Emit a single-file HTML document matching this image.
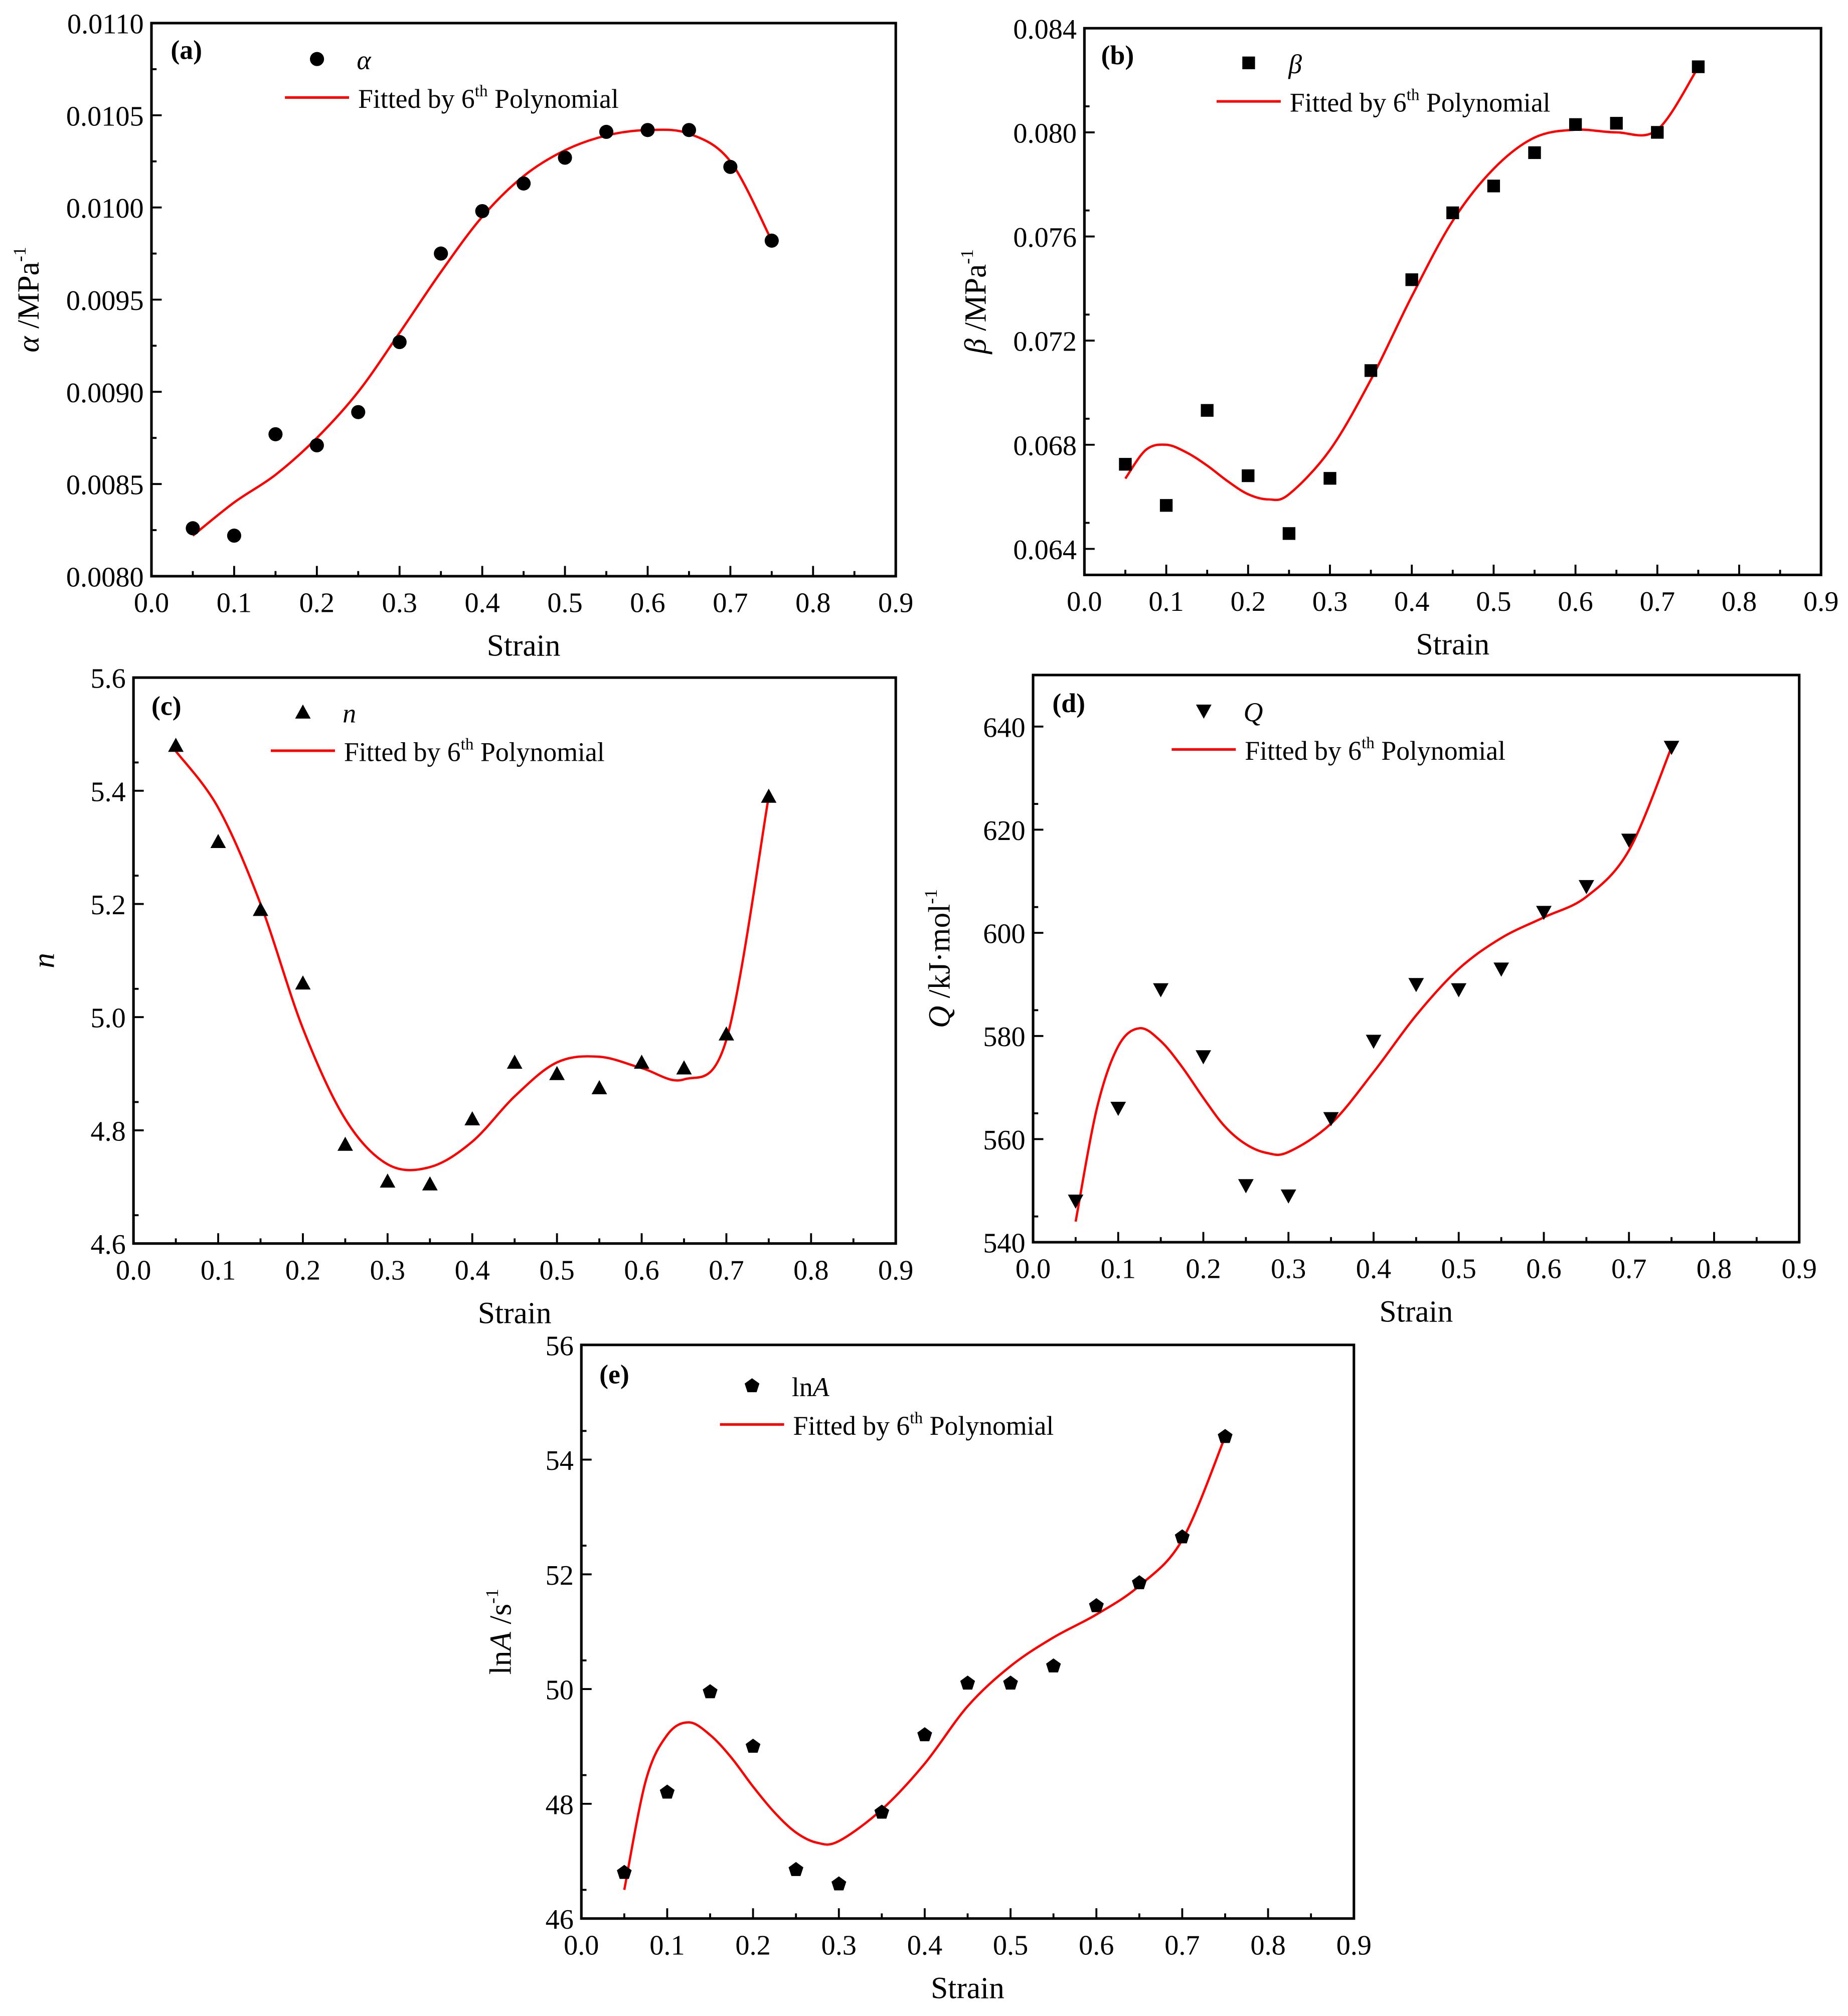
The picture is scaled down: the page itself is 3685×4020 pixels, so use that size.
<!DOCTYPE html>
<html><head><meta charset="utf-8"><style>
html,body{margin:0;padding:0;background:#fff;}
svg, svg text{font-family:"Liberation Serif","Times New Roman",serif;}
</style></head><body>
<svg id="fig" width="3685" height="4015" viewBox="0 0 1440 1569" xmlns="http://www.w3.org/2000/svg" font-family="Liberation Serif, serif">
<rect x="0" y="0" width="1440" height="1569" fill="#fff"/>
</svg>
<script>
const strainValues = [0.05,0.1,0.15,0.2,0.25,0.3,0.35,0.4,0.45,0.5,0.55,0.6,0.65,0.7,0.75];
const alphaValues = [0.00826,0.00822,0.00877,0.00871,0.00889,0.00927,0.00975,0.00998,0.01013,0.01027,0.01041,0.01042,0.01042,0.01022,0.00982];
const alphaFitX = [0.05,0.1,0.15,0.2,0.25,0.3,0.35,0.4,0.45,0.5,0.55,0.6,0.65,0.7,0.75];
const alphaFitY = [0.00822,0.0084,0.00855,0.00875,0.009,0.00932,0.00965,0.00995,0.01017,0.01031,0.01039,0.01042,0.0104,0.01025,0.00982];
const betaValues = [0.06725,0.06567,0.06932,0.06681,0.06459,0.06671,0.07085,0.07434,0.07691,0.07794,0.07922,0.0803,0.08035,0.0800,0.08252];
const betaFitX = [0.05,0.075,0.1,0.125,0.15,0.175,0.2,0.225,0.25,0.3,0.35,0.4,0.45,0.5,0.55,0.6,0.65,0.7,0.75];
const betaFitY = [0.0667,0.0678,0.0680,0.0677,0.0672,0.0666,0.0661,0.0659,0.0661,0.0678,0.0705,0.0737,0.0766,0.0786,0.0798,0.0801,0.0800,0.0801,0.0825];
const nValues = [5.48,5.31,5.19,5.06,4.775,4.71,4.705,4.82,4.92,4.90,4.875,4.92,4.91,4.97,5.39];
const nFitX = [0.05,0.1,0.15,0.2,0.25,0.3,0.35,0.4,0.45,0.5,0.55,0.6,0.65,0.7,0.75];
const nFitY = [5.47,5.37,5.2,4.98,4.82,4.74,4.735,4.78,4.86,4.92,4.93,4.91,4.89,4.96,5.39];
const qValues = [548,566,589,576,551,549,564,579,590,589,593,604,609,618,636];
const qFitX = [0.05,0.075,0.1,0.125,0.15,0.175,0.2,0.225,0.25,0.275,0.3,0.35,0.4,0.45,0.5,0.55,0.6,0.65,0.7,0.75];
const qFitY = [544,566,578,581.5,579,574,568,562.5,559,557.3,557.5,563,573,584,593,599,603,607,616,636];
const lnaValues = [46.8,48.2,49.95,49.0,46.85,46.6,47.85,49.2,50.1,50.1,50.4,51.45,51.85,52.65,54.4];
const lnaFitX = [0.05,0.075,0.1,0.125,0.15,0.175,0.2,0.225,0.25,0.275,0.3,0.35,0.4,0.45,0.5,0.55,0.6,0.65,0.7,0.75];
const lnaFitY = [46.5,48.4,49.2,49.42,49.2,48.8,48.3,47.85,47.5,47.32,47.35,47.9,48.7,49.7,50.4,50.9,51.3,51.8,52.6,54.4];
const xTickLabels = ["0.0","0.1","0.2","0.3","0.4","0.5","0.6","0.7","0.8","0.9"];
const alphaTicks = ["0.0080","0.0085","0.0090","0.0095","0.0100","0.0105","0.0110"];
const betaTicks = ["0.064","0.068","0.072","0.076","0.080","0.084"];
const nTicks = ["4.6","4.8","5.0","5.2","5.4","5.6"];
const qTicks = ["540","560","580","600","620","640"];
const lnaTicks = ["46","48","50","52","54","56"];

const NS="http://www.w3.org/2000/svg";
const FF='"Liberation Serif", serif';
const fig=document.getElementById('fig');
function mk(tag,attrs,parent){const e=document.createElementNS(NS,tag);for(const k in attrs)e.setAttribute(k,attrs[k]);if(tag==='text')e.setAttribute('font-family',FF);(parent||fig).appendChild(e);return e;}

function marker(g,shape,cx,cy,s){
  let e;
  if(shape==='circle') e=mk('circle',{cx:cx,cy:cy,r:s,fill:'#000'},g);
  else if(shape==='square') e=mk('rect',{x:cx-s*0.9,y:cy-s*0.9,width:s*1.8,height:s*1.8,fill:'#000'},g);
  else if(shape==='up') e=mk('polygon',{points:`${cx},${cy-s*1.1} ${cx-s*1.1},${cy+s*0.9} ${cx+s*1.1},${cy+s*0.9}`,fill:'#000'},g);
  else if(shape==='down') e=mk('polygon',{points:`${cx},${cy+s*1.1} ${cx-s*1.1},${cy-s*0.9} ${cx+s*1.1},${cy-s*0.9}`,fill:'#000'},g);
  else {let p=[];for(let i=0;i<5;i++){const a=-Math.PI/2+i*2*Math.PI/5;p.push((cx+s*1.1*Math.cos(a)).toFixed(2)+','+(cy+s*1.1*Math.sin(a)).toFixed(2));}
    e=mk('polygon',{points:p.join(' '),fill:'#000'},g);}
  return e;
}

function panel(P){
  const g=mk('g',{});
  
  
  const xs=v=>P.L+(v-0)/0.9*(P.R-P.L);
  const ys=v=>P.B-(v-P.y0)/(P.y1-P.y0)*(P.B-P.T);
  const fr=mk('rect',{x:P.L,y:P.T,width:P.R-P.L,height:P.B-P.T,fill:'none',stroke:'#000','stroke-width':2},g);
  
  
  xTickLabels.forEach((lab,i)=>{
    const v=i*0.1, x=xs(v);
    mk('line',{x1:x,y1:P.B,x2:x,y2:P.B-8,stroke:'#000','stroke-width':1.5},g);
    if(i<9){const xm=xs(v+0.05);mk('line',{x1:xm,y1:P.B,x2:xm,y2:P.B-4,stroke:'#000','stroke-width':1.5},g);}
    const t=mk('text',{x:x,y:P.B+28,'font-size':22,'text-anchor':'middle'},g);t.textContent=lab;
    
    
  });
  P.ticks.forEach((lab,i)=>{
    const v=parseFloat(lab), y=ys(v);
    mk('line',{x1:P.L,y1:y,x2:P.L+8,y2:y,stroke:'#000','stroke-width':1.5},g);
    if(i<P.ticks.length-1){const ym=ys(v+P.step/2);mk('line',{x1:P.L,y1:ym,x2:P.L+4,y2:ym,stroke:'#000','stroke-width':1.5},g);}
    const t=mk('text',{x:P.L-6,y:y+8,'font-size':22,'text-anchor':'end'},g);t.textContent=lab;
    
    
  });
  const pts=P.fx.map((v,i)=>[xs(v),ys(P.fy[i])]);
  let d='M'+pts[0][0]+','+pts[0][1];
  for(let i=0;i<pts.length-1;i++){
    const p0=pts[Math.max(0,i-1)],p1=pts[i],p2=pts[i+1],p3=pts[Math.min(pts.length-1,i+2)];
    const c1=[p1[0]+(p2[0]-p0[0])/6,p1[1]+(p2[1]-p0[1])/6],c2=[p2[0]-(p3[0]-p1[0])/6,p2[1]-(p3[1]-p1[1])/6];
    d+=` C${c1[0]},${c1[1]} ${c2[0]},${c2[1]} ${p2[0]},${p2[1]}`;
  }
  const fit=mk('path',{d:d,fill:'none',stroke:'#f00','stroke-width':1.8},g);
  
  
  strainValues.forEach((s,i)=>{
    const m=marker(g,P.shape,xs(s),ys(P.vals[i]),5.5);
    
    
  });
  const pl=mk('text',{x:P.lx,y:P.ly,'font-size':21,'font-weight':'bold'},g);pl.textContent=P.letter;
  
  
  const lg=mk('g',{},g);
  
  
  marker(lg,P.shape,P.gx+25,P.gy,5.5);
  const st=mk('text',{x:P.gx+56,y:P.gy+8,'font-size':21},lg);st.innerHTML=P.sym;
  mk('line',{x1:P.gx,y1:P.gy+30,x2:P.gx+50,y2:P.gy+30,stroke:'#f00','stroke-width':2},lg);
  const ft=mk('text',{x:P.gx+57,y:P.gy+38,'font-size':21},lg);
  ft.innerHTML='Fitted by 6<tspan font-size="13" dy="-9">th</tspan><tspan dy="9"> Polynomial</tspan>';
  const xt=mk('text',{x:(P.L+P.R)/2,y:P.B+62,'font-size':24,'text-anchor':'middle'},g);xt.textContent='Strain';
  
  
  const yt=mk('text',{x:0,y:0,'font-size':24,'text-anchor':'middle',transform:`translate(${P.yx},${(P.T+P.B)/2}) rotate(-90)`},g);
  yt.innerHTML=P.ytitle;
  
  
}
const sup='<tspan font-size="14" dy="-10">-1</tspan>';
panel({name:'panel-a-alpha',L:118,R:698,T:18,B:449,y0:0.008,y1:0.011,step:0.0005,ticks:alphaTicks,vals:alphaValues,fx:alphaFitX,fy:alphaFitY,shape:'circle',letter:'(a)',lx:133,ly:46,gx:222,gy:46,sym:'<tspan font-style="italic">α</tspan>',yx:30,ytitle:'<tspan font-style="italic">α</tspan> /MPa'+sup});
panel({name:'panel-b-beta',L:845,R:1419,T:22,B:448,y0:0.063,y1:0.084,step:0.002,ticks:betaTicks,vals:betaValues,fx:betaFitX,fy:betaFitY,shape:'square',letter:'(b)',lx:858,ly:50,gx:948,gy:49,sym:'<tspan font-style="italic">β</tspan>',yx:768,ytitle:'<tspan font-style="italic">β</tspan> /MPa'+sup});
panel({name:'panel-c-n',L:104,R:698,T:528,B:969,y0:4.6,y1:5.6,step:0.1,ticks:nTicks,vals:nValues,fx:nFitX,fy:nFitY,shape:'up',letter:'(c)',lx:118,ly:557,gx:211,gy:555,sym:'<tspan font-style="italic">n</tspan>',yx:42,ytitle:'<tspan font-style="italic">n</tspan>'});
panel({name:'panel-d-q',L:805,R:1402,T:526,B:968,y0:540,y1:650,step:10,ticks:qTicks,vals:qValues,fx:qFitX,fy:qFitY,shape:'down',letter:'(d)',lx:820,ly:555,gx:913,gy:554,sym:'<tspan font-style="italic">Q</tspan>',yx:740,ytitle:'<tspan font-style="italic">Q</tspan> /kJ·mol'+sup});
panel({name:'panel-e-lna',L:453,R:1055,T:1048,B:1495,y0:46,y1:56,step:1,ticks:lnaTicks,vals:lnaValues,fx:lnaFitX,fy:lnaFitY,shape:'pent',letter:'(e)',lx:467,ly:1078,gx:561,gy:1080,sym:'ln<tspan font-style="italic">A</tspan>',yx:398,ytitle:'ln<tspan font-style="italic">A</tspan> /s'+sup});
</script>
</body></html>
